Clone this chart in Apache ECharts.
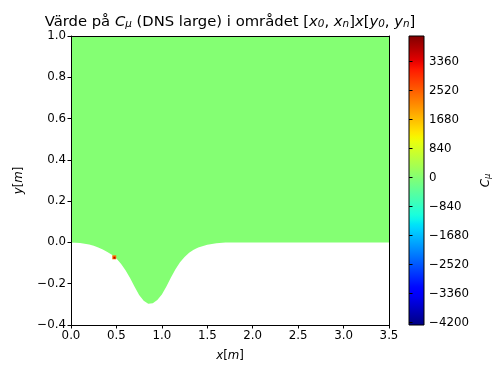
<!DOCTYPE html>
<html><head><meta charset="utf-8">
<script src="https://cdn.jsdelivr.net/npm/echarts@6/dist/echarts.min.js"></script>
<style>html,body{margin:0;padding:0;background:#fff}#c{width:492px;height:365px}</style>
</head><body><div id="c"></div><script>
// ---- data ----
const profileX = [0, 0.1, 0.2, 0.25, 0.3, 0.35, 0.4, 0.45, 0.5, 0.55, 0.6, 0.65, 0.7, 0.75, 0.8, 0.85, 0.9, 0.95, 1.0, 1.05, 1.1, 1.15, 1.2, 1.25, 1.3, 1.35, 1.4, 1.5, 1.6, 1.7, 3.5];
const profileY = [0, -0.003, -0.01, -0.016, -0.024, -0.034, -0.046, -0.06, -0.078, -0.103, -0.135, -0.172, -0.215, -0.255, -0.283, -0.297, -0.295, -0.279, -0.252, -0.213, -0.17, -0.13, -0.096, -0.07, -0.05, -0.035, -0.024, -0.011, -0.004, 0, 0];
const domainTop = 1.0;
const fieldValue = 0;
const spotX = [0.476, 0.478];
const spotY = [-0.072, -0.074];
const spotV = [2300, 3700];
const cbarMin = -4270, cbarMax = 4100;
const cbarTicks = [-4200, -3360, -2520, -1680, -840, 0, 840, 1680, 2520, 3360];
const xTicks = [0, 0.5, 1, 1.5, 2, 2.5, 3, 3.5];
const yTicks = [-0.4, -0.2, 0, 0.2, 0.4, 0.6, 0.8, 1.0];

// ---- jet colormap ----
const jetR = [[0,0],[0.35,0],[0.66,1],[0.89,1],[1,0.5]];
const jetG = [[0,0],[0.125,0],[0.375,1],[0.64,1],[0.91,0],[1,0]];
const jetB = [[0,0.5],[0.11,1],[0.34,1],[0.65,0],[1,0]];
function seg(tab, t){
  for (let i=1;i<tab.length;i++){ if (t<=tab[i][0]){ const a=tab[i-1], b=tab[i]; return a[1]+(b[1]-a[1])*(t-a[0])/(b[0]-a[0]); } }
  return tab[tab.length-1][1];
}
function jet(t){ t=Math.max(0,Math.min(1,t)); return 'rgb('+Math.round(255*seg(jetR,t))+','+Math.round(255*seg(jetG,t))+','+Math.round(255*seg(jetB,t))+')'; }
function valColor(v){ return jet((v-cbarMin)/(cbarMax-cbarMin)); }
function fmt(v){ v=Math.round(v*10)/10; const s=Math.abs(v).toFixed(1); return v<0?'\u2212'+s:s; }
function fmtI(v){ return v<0?'\u2212'+Math.abs(v):String(v); }

const F = 'DejaVu Sans';
const TS = 11.8, TT = 14.8;
const chart = echarts.init(document.getElementById('c'), null, {renderer:'canvas'});
const stops = [];
for (let i=0;i<=60;i++){ stops.push({offset:i/60, color: jet(i/60)}); }
const ital = {fontStyle:'italic', fontFamily:F, fontSize:TS, color:'#000'};

chart.setOption({
  animation:false,
  backgroundColor:'#fff',
  grid:[{left:71, top:36, width:318, height:289, containLabel:false, outerBoundsMode:'none'},
        {left:409, top:36, width:15, height:289, containLabel:false, outerBoundsMode:'none'}],
  xAxis:[
    {gridIndex:0, type:'value', min:0, max:3.5, interval:0.5, position:'bottom', z:5,
     axisLine:{show:true, onZero:false, lineStyle:{color:'#000', width:1}},
     axisTick:{show:true, length:3.5, lineStyle:{color:'#000'}},
     axisLabel:{formatter:fmt, color:'#000', fontFamily:F, fontSize:TS, margin:5},
     splitLine:{show:false},
     name:'{i|x}[{i|m}]', nameLocation:'middle', nameGap:25,
     nameTextStyle:{color:'#000', fontFamily:F, fontSize:TS, rich:{i:ital}}},
    {gridIndex:0, type:'value', min:0, max:3.5, position:'top', z:5,
     axisLine:{show:true, onZero:false, lineStyle:{color:'#000', width:1}},
     axisTick:{show:false}, axisLabel:{show:false}, splitLine:{show:false}},
    {gridIndex:1, type:'value', min:0, max:1, show:false}
  ],
  yAxis:[
    {gridIndex:0, type:'value', min:-0.4, max:1.0, interval:0.2, position:'left', z:5,
     axisLine:{show:true, onZero:false, lineStyle:{color:'#000', width:1}},
     axisTick:{show:true, length:3.5, lineStyle:{color:'#000'}},
     axisLabel:{formatter:fmt, color:'#000', fontFamily:F, fontSize:TS, margin:5},
     splitLine:{show:false},
     name:'{i|y}[{i|m}]', nameLocation:'middle', nameGap:46, nameRotate:90,
     nameTextStyle:{color:'#000', fontFamily:F, fontSize:TS, rich:{i:ital}}},
    {gridIndex:0, type:'value', min:-0.4, max:1.0, position:'right', z:5,
     axisLine:{show:true, onZero:false, lineStyle:{color:'#000', width:1}},
     axisTick:{show:false}, axisLabel:{show:false}, splitLine:{show:false}},
    {gridIndex:1, type:'value', min:cbarMin, max:cbarMax, position:'right', z:5,
     axisLine:{show:false},
     axisTick:{show:true, length:3.5, customValues:cbarTicks, lineStyle:{color:'#000'}},
     axisLabel:{customValues:cbarTicks, formatter:fmtI, color:'#000', fontFamily:F, fontSize:TS, margin:5},
     splitLine:{show:false},
     name:'{i|C}{s|μ}', nameLocation:'middle', nameGap:55, nameRotate:90,
     nameTextStyle:{color:'#000', fontFamily:F, fontSize:TS, rich:{i:ital, s:{fontStyle:'italic', fontFamily:F, fontSize:8.5, color:'#000', padding:[4,0,0,0]}}}}
  ],
  graphic:[{
    type:'text', x:230, y:22, z:10,
    style:{
      text:'Värde på {i|C}{s|μ} (DNS large) i området [{i|x}{s|0}, {i|x}{s|n}]{i|x}[{i|y}{s|0}, {i|y}{s|n}]',
      fontFamily:F, fontSize:TT, fill:'#000', align:'center', verticalAlign:'middle',
      textAlign:'center', textVerticalAlign:'middle',
      rich:{i:{fontStyle:'italic', fontFamily:F, fontSize:TT, fill:'#000', color:'#000'}, s:{fontStyle:'italic', fontFamily:F, fontSize:10.4, fill:'#000', color:'#000', padding:[5,0,0,0]}}
    }
  }],
  series:[
    {type:'custom', xAxisIndex:0, yAxisIndex:0, z:2, clip:false,
     data:[[fieldValue]],
     renderItem:function(params, api){
       const pts=[api.coord([profileX[0], domainTop]), api.coord([profileX[profileX.length-1], domainTop])];
       for (let i=profileX.length-1;i>=0;i--) pts.push(api.coord([profileX[i], profileY[i]]));
       return {type:'polygon', shape:{points:pts}, style:{fill:valColor(api.value(0)), stroke:null}};
     }},
    {type:'custom', xAxisIndex:0, yAxisIndex:0, z:3,
     data:spotX.map((x,i)=>[x, spotY[i], spotV[i]]),
     renderItem:function(params, api){
       const p=api.coord([api.value(0), api.value(1)]);
       const s = params.dataIndex===0 ? 4 : 2;
       return {type:'rect', shape:{x:p[0]-s/2, y:p[1]-s/2, width:s, height:s}, style:{fill:valColor(api.value(2))}};
     }},
    {type:'custom', xAxisIndex:2, yAxisIndex:2, z:2,
     data:[[0]],
     renderItem:function(params, api){
       const a=api.coord([0, cbarMin]), b=api.coord([1, cbarMax]);
       return {type:'rect', shape:{x:a[0], y:b[1], width:b[0]-a[0], height:a[1]-b[1]},
         style:{fill:new echarts.graphic.LinearGradient(0,1,0,0,stops), stroke:'#000', lineWidth:1}};
     }}
  ]
});
</script></body></html>
